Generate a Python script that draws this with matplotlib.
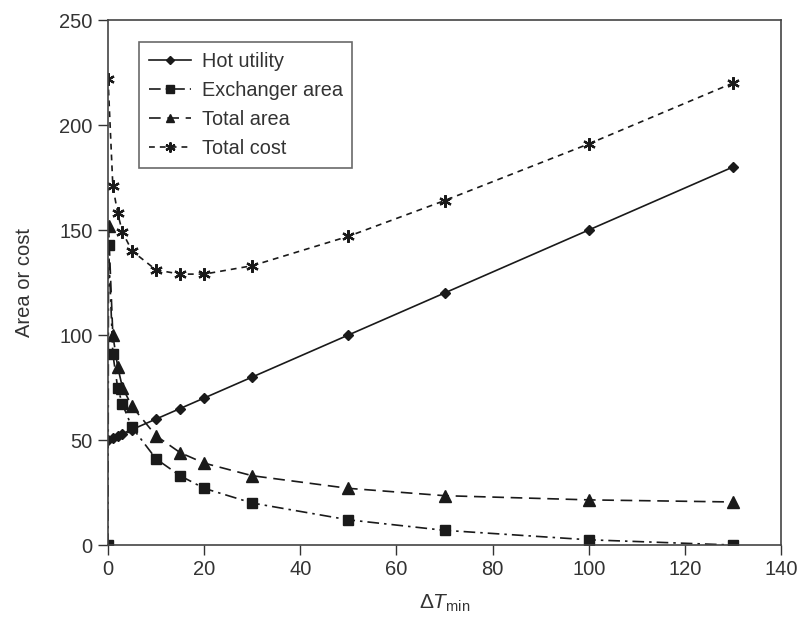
import matplotlib.pyplot as plt

plt.rcParams["font.family"] = ["Liberation Sans", "DejaVu Sans"]
plt.rcParams["mathtext.fontset"] = "custom"
plt.rcParams["mathtext.rm"] = "Liberation Sans"
plt.rcParams["mathtext.it"] = "Liberation Sans:italic"

# data
dt_hot = [0, 1, 2, 3, 5, 10, 15, 20, 30, 50, 70, 100, 130]
hot_utility = [50, 51, 52, 53, 55, 60, 65, 70, 80, 100, 120, 150, 180]

dt_exch = [0, 0.1, 1, 2, 3, 5, 10, 15, 20, 30, 50, 70, 100, 130]
exchanger_area = [0, 143, 91, 75, 67, 56, 41, 33, 27, 20, 12, 7, 2.5, 0]

dt_total = [0.1, 1, 2, 3, 5, 10, 15, 20, 30, 50, 70, 100, 130]
total_area = [152, 100, 85, 75, 66, 52, 44, 39, 33, 27, 23.5, 21.5, 20.5]

dt_cost = [0, 1, 2, 3, 5, 10, 15, 20, 30, 50, 70, 100, 130]
total_cost = [222, 171, 158, 149, 140, 131, 129, 129, 133, 147, 164, 191, 220]

x_ticks = [0, 20, 40, 60, 80, 100, 120, 140]
y_ticks = [0, 50, 100, 150, 200, 250]

TEXT = "#333333"
LINE = "#1a1a1a"

fig = plt.figure(figsize=(8.02, 6.29), dpi=100)
ax = fig.add_axes([0.1347, 0.1335, 0.8391, 0.8347])

ax.plot(dt_hot, hot_utility, color=LINE, lw=1.2, ls="-",
        marker="D", ms=5, label="Hot utility")
ax.plot(dt_exch, exchanger_area, color=LINE, lw=1.2, ls=(0, (7, 3, 1.5, 3)),
        marker="s", ms=7, label="Exchanger area")
ax.plot(dt_total, total_area, color=LINE, lw=1.2, ls=(0, (7, 4)),
        marker="^", ms=8, label="Total area")
ax.plot(dt_cost, total_cost, color=LINE, lw=1.2, ls=(0, (3.5, 3)),
        marker=(6, 2, 0), ms=9, mew=1.6, label="Total cost")

ax.set_xlim(0, 140)
ax.set_ylim(0, 250)
ax.set_xticks(x_ticks)
ax.set_yticks(y_ticks)
ax.tick_params(direction="out", length=7, width=1, labelsize=14.5,
               colors=TEXT, labelcolor=TEXT, pad=4)
for sp in ax.spines.values():
    sp.set_linewidth(1.2)
    sp.set_color("#444444")

ax.set_xlabel(r"$\Delta T_{\rm min}$", fontsize=15, color=TEXT, labelpad=10)
ax.set_ylabel("Area or cost", fontsize=14.5, color=TEXT, labelpad=18)

leg = ax.legend(loc="upper left", bbox_to_anchor=(0.046, 0.958),
                borderaxespad=0, fontsize=14.3, frameon=True, fancybox=False,
                handlelength=2.1, handletextpad=0.55, labelspacing=0.5,
                borderpad=0.5, labelcolor=TEXT, markerscale=0.8)
leg.get_frame().set_edgecolor("#444444")
leg.get_frame().set_linewidth(1.2)

fig.savefig("out.png", dpi=100)
